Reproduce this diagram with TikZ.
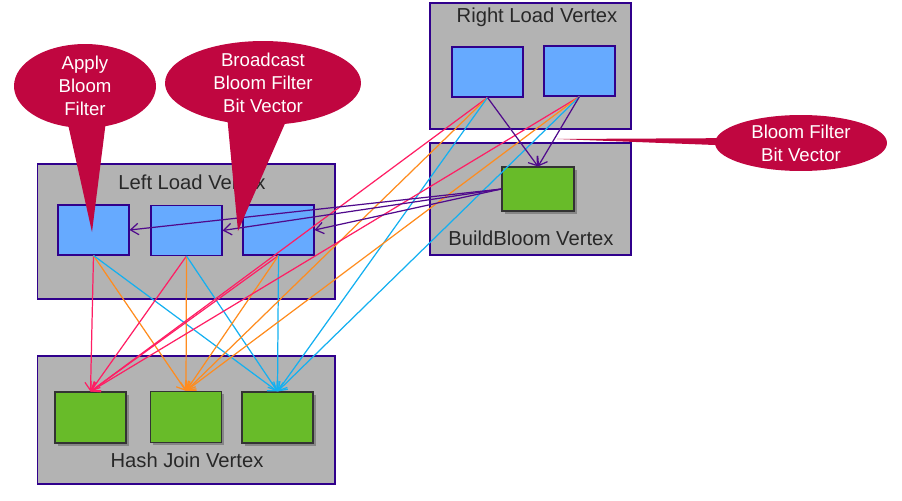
\documentclass[tikz,border=0pt]{standalone}
\usepackage{fontspec}
\setmainfont{Liberation Sans}
\usetikzlibrary{shapes.callouts,shadows,arrows.meta}

\definecolor{boxgray}{RGB}{179,179,179}
\definecolor{boxedge}{RGB}{48,0,140}
\definecolor{taskblue}{RGB}{102,170,255}
\definecolor{joingreen}{RGB}{104,187,41}
\definecolor{bubblered}{RGB}{192,6,64}
\definecolor{linkpink}{RGB}{255,30,100}
\definecolor{linkorange}{RGB}{255,140,30}
\definecolor{linkcyan}{RGB}{20,176,240}
\definecolor{linkpurple}{RGB}{80,10,140}
\definecolor{vtxtext}{RGB}{40,40,40}

\begin{document}
\begin{tikzpicture}[x=0.02cm, y=-0.02cm,
  vertex/.style={draw=boxedge, fill=boxgray, line width=0.6pt, inner sep=0pt},
  taskbox/.style={draw=boxedge, fill=taskblue, line width=0.6pt, inner sep=0pt,
    minimum width=1.42cm, minimum height=1cm},
  joinbox/.style={draw=black!80, fill=joingreen, line width=0.6pt, inner sep=0pt,
    minimum width=1.42cm, minimum height=1.02cm,
    drop shadow={shadow xshift=1.6pt, shadow yshift=-1.6pt, opacity=0.35, fill=black!80}},
  vtxname/.style={text=vtxtext, font=\fontsize{11.5}{13}\selectfont},
  bubble/.style={ellipse callout, fill=bubblered, text=white, align=center,
    inner sep=0pt, font=\fontsize{10.6}{13}\selectfont},
  link/.style={line width=0.7pt, -{Straight Barb[length=4.5pt,width=6.5pt]}}]

\useasboundingbox (0,0) rectangle (902,500);

\node[vertex, minimum width=5.96cm, minimum height=2.7cm] (leftload) at (186,231.5) {};
\node[vertex, minimum width=5.96cm, minimum height=2.56cm] (hashjoin) at (186,420) {};
\node[vertex, minimum width=4.02cm, minimum height=2.52cm] (rightload) at (530.5,66) {};
\node[vertex, minimum width=4.02cm, minimum height=2.24cm] (buildbloom) at (530.5,199) {};

\node[vtxname] (leftname) at (192,182) {Left Load Vertex};
\node[vtxname] (joinname) at (187,460) {Hash Join Vertex};
\node[vtxname] (rightname) at (537,17) {Right Load Vertex};
\node[vtxname] (bloomname) at (531,238) {BuildBloom Vertex};

\node[taskbox] (l1) at (93.5,230) {};
\node[taskbox] (l2) at (186.5,230.5) {};
\node[taskbox] (l3) at (278.5,230) {};
\node[taskbox] (r1) at (487.5,72) {};
\node[taskbox] (r2) at (579.5,71) {};

\node[joinbox] (h1) at (90.5,417.5) {};
\node[joinbox] (h2) at (186,417) {};
\node[joinbox] (h3) at (277.5,417.5) {};
\node[joinbox, minimum width=1.44cm, minimum height=0.88cm] (bb) at (538,189) {};

\draw[link, linkpink] (l1.south) -- (h1.north);
\draw[link, linkorange] (l1.south) -- (h2.north);
\draw[link, linkcyan] (l1.south) -- (h3.north);
\draw[link, linkpink] (l2.south) -- (h1.north);
\draw[link, linkorange] (l2.south) -- (h2.north);
\draw[link, linkcyan] (l2.south) -- (h3.north);
\draw[link, linkpink] (l3.south) -- (h1.north);
\draw[link, linkorange] (l3.south) -- (h2.north);
\draw[link, linkcyan] (l3.south) -- (h3.north);
\draw[link, linkpink] (r1.south) -- (h1.north);
\draw[link, linkorange] (r1.south) -- (h2.north);
\draw[link, linkcyan] (r1.south) -- (h3.north);
\draw[link, linkpink] (r2.south) -- (h1.north);
\draw[link, linkorange] (r2.south) -- (h2.north);
\draw[link, linkcyan] (r2.south) -- (h3.north);

\draw[link, linkpurple] (r1.south) -- (bb.north);
\draw[link, linkpurple] (r2.south) -- (bb.north);
\draw[link, linkpurple] (bb.west) -- (l1.east);
\draw[link, linkpurple] (bb.west) -- (l2.east);
\draw[link, linkpurple] (bb.west) -- (l3.east);

\coordinate (applytip) at (92,232);
\coordinate (sendtip) at (238,231);
\coordinate (vectortip) at (557,139);

\node[bubble, minimum width=2.84cm, minimum height=1.56cm, callout pointer arc=30,
  callout absolute pointer={(applytip)}] (apply) at (85,86) {Apply\\Bloom\\Filter};
\node[bubble, minimum width=3.92cm, minimum height=1.44cm, callout pointer arc=34,
  callout absolute pointer={(sendtip)}] (broadcast) at (263,83) {Broadcast\\Bloom Filter\\Bit Vector};
\node[bubble, minimum width=3.44cm, minimum height=1.12cm, callout pointer arc=14,
  callout absolute pointer={(vectortip)}] (bitvector) at (801,143) {Bloom Filter\\Bit Vector};
\end{tikzpicture}
\end{document}
